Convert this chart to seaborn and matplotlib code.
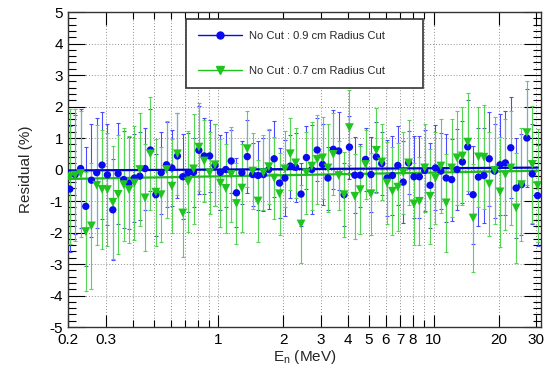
import numpy as np
import pandas as pd
import matplotlib
matplotlib.use("Agg")
import matplotlib.pyplot as plt
from matplotlib.lines import Line2D
from matplotlib.ticker import FixedLocator, FixedFormatter, NullFormatter
import seaborn as sns

# Neutron energy bins (MeV)
energy = [0.204, 0.216, 0.229, 0.242, 0.257, 0.272, 0.288, 0.305, 0.323, 0.342,
          0.363, 0.384, 0.407, 0.431, 0.456, 0.483, 0.512, 0.542, 0.574, 0.608,
          0.645, 0.683, 0.723, 0.766, 0.811, 0.859, 0.910, 0.964, 1.021, 1.082,
          1.146, 1.213, 1.285, 1.361, 1.442, 1.527, 1.618, 1.713, 1.815, 1.922,
          2.036, 2.157, 2.284, 2.419, 2.563, 2.714, 2.875, 3.045, 3.226, 3.416,
          3.619, 3.833, 4.060, 4.300, 4.555, 4.824, 5.110, 5.413, 5.733, 6.072,
          6.432, 6.813, 7.216, 7.643, 8.096, 8.575, 9.082, 9.620, 10.19, 10.79,
          11.43, 12.11, 12.83, 13.59, 14.39, 15.24, 16.14, 17.10, 18.11, 19.18,
          20.32, 21.52, 22.80, 24.15, 25.57, 27.09, 28.69, 30.39]

# No Cut : 0.9 cm Radius Cut
res_09 = [-0.62, -0.16, 0.03, -1.17, -0.34, -0.10, 0.14, -0.17, -1.28, -0.13,
          -0.32, -0.43, -0.27, -0.21, 0.03, 0.62, -0.80, -0.10, 0.15, 0.05,
          0.43, -0.23, -0.10, -0.09, 0.61, 0.43, 0.43, 0.13, -0.09, 0.00,
          0.27, -0.74, -0.10, 0.41, -0.16, -0.19, -0.16, 0.00, 0.34, -0.43,
          -0.27, 0.11, 0.07, -0.78, 0.38, 0.00, 0.62, 0.16, -0.27, 0.64,
          0.59, -0.80, 0.71, -0.18, -0.18, 0.32, -0.16, 0.40, 0.19, -0.27,
          -0.19, 0.13, -0.40, 0.21, -0.23, -0.23, -0.03, -0.50, 0.05, -0.05,
          -0.27, -0.32, 0.00, 0.24, 0.72, -0.80, -0.24, -0.19, 0.34, -0.05,
          0.15, 0.21, 0.69, -0.59, -0.48, 1.00, -0.14, -0.83]
err_09 = [2.0, 1.9, 1.9, 1.9, 1.8, 1.75, 1.7, 1.6, 1.6, 1.6,
          1.55, 1.45, 1.4, 1.4, 1.3, 1.3, 1.3, 1.3, 1.35, 1.2,
          1.35, 1.35, 1.25, 1.1, 1.4, 1.2, 1.15, 1.3, 1.2, 1.2,
          1.0, 1.1, 1.0, 1.15, 1.0, 1.1, 1.15, 1.25, 1.2, 1.1,
          1.2, 1.0, 1.1, 1.0, 1.0, 1.4, 1.0, 1.3, 1.0, 1.25,
          1.25, 1.0, 1.0, 1.2, 1.0, 1.0, 1.2, 1.1, 1.0, 1.2,
          1.25, 1.25, 1.3, 1.0, 1.3, 1.3, 1.3, 1.35, 1.35, 1.2,
          1.4, 1.3, 1.3, 1.3, 1.5, 1.55, 1.55, 1.5, 1.5, 1.5,
          1.6, 1.65, 1.6, 1.6, 1.6, 1.55, 1.6, 1.6]

# No Cut : 0.7 cm Radius Cut
res_07 = [-0.23, -0.18, -0.13, -1.97, -1.79, -0.50, -0.63, -0.64, -1.04, -0.79,
          -0.48, -0.64, -0.43, 0.00, -0.90, 0.50, -0.72, -0.80, 0.00, -0.53,
          0.50, -1.38, -0.39, 0.02, 0.71, 0.27, -0.10, 0.15, -0.43, -0.60,
          -0.16, -1.08, -0.59, 0.66, -0.05, -1.00, -0.10, 0.09, -0.27, -0.77,
          0.02, 0.50, 0.21, -1.73, -0.10, 0.11, 0.32, 0.37, 0.05, 0.48,
          -0.19, -0.80, 1.33, -0.85, -0.64, 0.16, -0.77, 0.61, 0.24, -0.43,
          -0.69, -0.56, -0.10, 0.21, -1.09, -1.01, 0.05, -0.85, -0.27, 0.11,
          -1.06, 0.05, 0.37, 0.43, 0.87, -1.54, 0.40, 0.39, -0.46, -0.03,
          -0.71, -0.16, 0.05, -1.22, -0.48, 1.17, 0.16, -0.51]
err_07 = [2.15, 2.1, 2.0, 1.9, 2.0, 1.9, 1.9, 1.8, 1.8, 1.9,
          1.8, 1.7, 1.8, 1.8, 1.7, 1.8, 1.7, 1.5, 1.55, 1.5,
          1.3, 1.4, 1.6, 1.75, 1.4, 1.3, 1.3, 1.3, 1.4, 1.4,
          1.5, 1.3, 1.4, 1.2, 1.2, 1.3, 1.2, 1.2, 1.3, 1.3,
          1.2, 1.15, 1.1, 1.25, 1.3, 1.4, 1.4, 1.3, 1.4, 1.3,
          1.1, 1.35, 1.2, 1.35, 1.4, 1.1, 1.3, 1.35, 1.2, 1.3,
          1.4, 1.4, 1.3, 1.35, 1.3, 1.4, 1.4, 1.5, 1.45, 1.5,
          1.55, 1.55, 1.5, 1.55, 1.55, 1.7, 1.6, 1.65, 1.65, 1.7,
          1.75, 1.75, 1.8, 1.75, 1.8, 1.65, 1.85, 1.8]

# fit lines (end points)
fit_e = [0.2, 30.4]
fit_09 = [-0.03, 0.06]
fit_07 = [-0.30, -0.04]

x_ticks = [0.2, 0.3, 1, 2, 3, 4, 5, 6, 7, 8, 10, 20, 30]
x_labels = ["0.2", "0.3", "1", "2", "3", "4", "5", "6", "7", "8", "10", "20", "30"]
x_minor = [0.4, 0.5, 0.6, 0.7, 0.8, 0.9, 9]

blue = "#0a0aee"
blue_bar = "#4a4aff"
green = "#1fc41f"
green_bar = "#55d455"

sns.set_style("ticks")
plt.rcParams['font.family'] = ['Liberation Sans', 'DejaVu Sans']
plt.rcParams['axes.unicode_minus'] = False

df09 = pd.DataFrame({"energy": energy, "res": res_09, "err": err_09})
df07 = pd.DataFrame({"energy": energy, "res": res_07, "err": err_07})

fig = plt.figure(figsize=(5.5, 3.65), dpi=100)
ax = fig.add_axes([0.1236, 0.1041, 0.86, 0.863])
ax.set_xscale("log")

# error bars
ax.errorbar(df09["energy"], df09["res"], yerr=df09["err"], fmt="none",
            ecolor=blue_bar, elinewidth=0.8, capsize=1.5, capthick=0.8, zorder=3)
ax.errorbar(df07["energy"], df07["res"], yerr=df07["err"], fmt="none",
            ecolor=green_bar, elinewidth=0.8, capsize=1.5, capthick=0.8, zorder=3)

# fit lines
sns.lineplot(x=fit_e, y=fit_09, color="#0000cc", lw=1.6, ax=ax, zorder=4)
sns.lineplot(x=fit_e, y=fit_07, color="#22b822", lw=1.6, ax=ax, zorder=4)

# markers
sns.scatterplot(data=df09, x="energy", y="res", marker="o", color=blue,
                s=28, edgecolor="none", ax=ax, zorder=5)
sns.scatterplot(data=df07, x="energy", y="res", marker="v", color=green,
                s=40, edgecolor="none", ax=ax, zorder=5)

ax.set_xlim(0.2, 31.5)
ax.set_ylim(-5, 5)

ax.xaxis.set_major_locator(FixedLocator(x_ticks))
ax.xaxis.set_major_formatter(FixedFormatter(x_labels))
ax.xaxis.set_minor_locator(FixedLocator(x_minor))
ax.xaxis.set_minor_formatter(NullFormatter())
ax.set_yticks(np.arange(-5, 6, 1))
ax.yaxis.set_minor_locator(FixedLocator(np.arange(-5, 5.01, 0.2)))

ax.xaxis.grid(True, which="both", ls=(0, (1, 2)), color="#8c8c8c", lw=0.7)
ax.yaxis.grid(True, which="major", ls=(0, (1, 2)), color="#8c8c8c", lw=0.7)
ax.set_axisbelow(True)

ax.tick_params(which="both", direction="in", top=True, right=True,
               labelsize=11, colors="black", width=0.8)
ax.tick_params(axis="y", which="major", length=12)
ax.tick_params(axis="y", which="minor", length=6)
ax.tick_params(axis="x", which="major", length=9)
ax.tick_params(axis="x", which="minor", length=5)
ax.tick_params(axis="x", pad=4)
for sp in ax.spines.values():
    sp.set_color("#333333")
    sp.set_linewidth(1.0)

ax.set_ylabel("Residual (%)", fontsize=11, labelpad=12)
ax.set_xlabel(r"E$_\mathregular{n}$ (MeV)", fontsize=11, labelpad=1)

handles = [Line2D([], [], color=blue, marker="o", ms=5, lw=1.0),
           Line2D([], [], color=green, marker="v", ms=6, lw=1.0)]
labels = ["No Cut : 0.9 cm Radius Cut", "No Cut : 0.7 cm Radius Cut"]
leg = ax.legend(handles, labels, loc="upper left",
                bbox_to_anchor=(0.249, 0.752, 0.501, 0.226), mode="expand",
                fontsize=8, frameon=True, fancybox=False, framealpha=1,
                edgecolor="#333333", handlelength=4.0, handletextpad=0.6,
                labelspacing=2.2, borderpad=1.1, borderaxespad=0)
leg.get_frame().set_linewidth(1.2)
leg.set_zorder(10)

fig.savefig("out.png", dpi=100)
